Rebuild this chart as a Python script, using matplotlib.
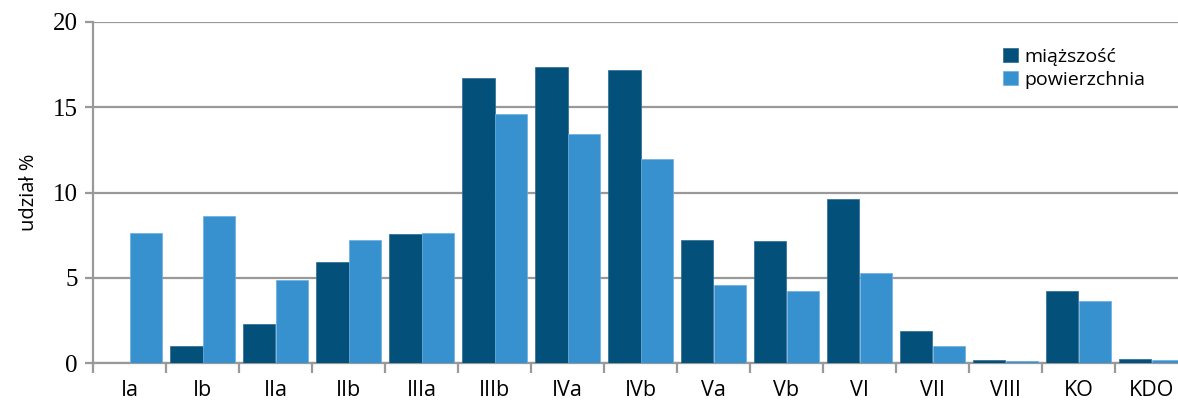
import matplotlib.pyplot as plt
import numpy as np

categories = ["Ia", "Ib", "IIa", "IIb", "IIIa", "IIIb", "IVa", "IVb",
              "Va", "Vb", "VI", "VII", "VIII", "KO", "KDO"]
miazszosc = [0.0, 1.0, 2.3, 5.9, 7.55, 16.7, 17.35, 17.2,
             7.2, 7.15, 9.6, 1.85, 0.2, 4.25, 0.25]
powierzchnia = [7.6, 8.6, 4.85, 7.2, 7.6, 14.6, 13.45, 11.95,
                4.6, 4.2, 5.3, 1.0, 0.1, 3.65, 0.17]

DARK = "#03507a"
LIGHT = "#3891cf"
GRID = "#999999"

fig = plt.figure(figsize=(11.78, 4.07), dpi=100)
ax = fig.add_axes([93 / 1178, 44 / 407, 1095 / 1178, 341 / 407])

x = np.arange(len(categories)) + 0.5
w = 0.44
ax.bar(x - w / 2, miazszosc, w, color=DARK, label="miąższość", zorder=3,
       edgecolor="#2a6a90", linewidth=0.5)
ax.bar(x + w / 2, powierzchnia, w, color=LIGHT, label="powierzchnia", zorder=3,
       edgecolor="#6aaede", linewidth=0.5)

ax.set_xlim(0, len(categories))
ax.set_ylim(0, 20)
ax.set_yticks([0, 5, 10, 15, 20])
ax.set_yticklabels(["0", "5", "10", "15", "20"], family="Liberation Serif", fontsize=18)
ax.yaxis.grid(True, color=GRID, linewidth=1.6, zorder=0)
ax.tick_params(axis="y", length=6, width=1.6, color=GRID, pad=5)

# category boundaries as ticks, labels in the middle
ax.set_xticks(np.arange(len(categories) + 1))
ax.set_xticklabels([])
ax.set_xticks(x, minor=True)
ax.set_xticklabels(categories, minor=True, family="Open Sans", fontsize=15.5)
ax.tick_params(axis="x", which="major", length=7, width=1.6, color=GRID, direction="out")
ax.tick_params(axis="x", which="minor", length=0, pad=12)

for s in ["top", "right"]:
    ax.spines[s].set_visible(False)
ax.spines["left"].set_color(GRID)
ax.spines["left"].set_linewidth(1.6)
ax.spines["bottom"].set_color(GRID)
ax.spines["bottom"].set_linewidth(1.6)

ax.set_ylabel("udział %", family="Open Sans", fontsize=14.5, labelpad=10)

ax.legend(loc="upper left", bbox_to_anchor=(0.815, 0.975), frameon=False,
          prop={"family": "Open Sans", "size": 14}, handlelength=0.75,
          handleheight=0.75, handletextpad=0.35, labelspacing=0.25)

fig.savefig("out.png", dpi=100)
